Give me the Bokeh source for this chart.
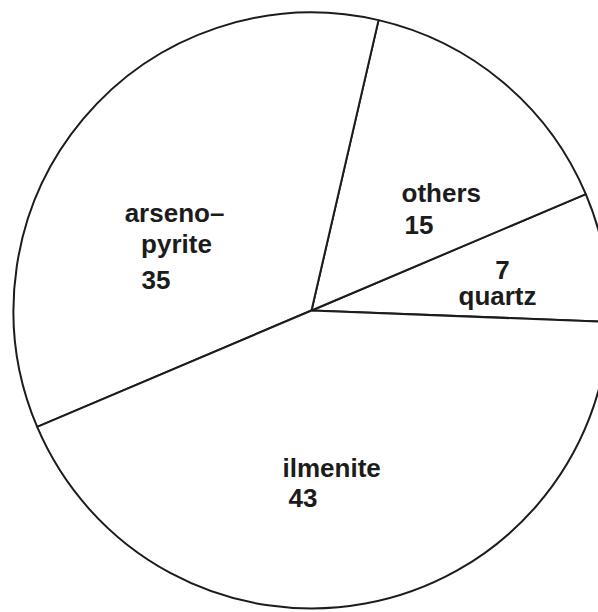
import math

from bokeh.embed import file_html
from bokeh.io import curdoc
from bokeh.models import ColumnDataSource, Range1d
from bokeh.plotting import figure
from bokeh.resources import INLINE
from bokeh.core.properties import value

# Mineral shares (percent), listed counter-clockwise from the right-hand side
minerals = ["quartz", "others", "arsenopyrite", "ilmenite"]
shares = [7, 15, 35, 43]

# Text written inside each slice (one string per line)
label_lines = {
    "quartz": ["7", "quartz"],
    "others": ["others", "15"],
    "arsenopyrite": ["arseno\u2013", "pyrite", "35"],
    "ilmenite": ["ilmenite", "43"],
}

# ---- layout -----------------------------------------------------------
W, H = 598, 612
CX, CY, R = 311, 302, 298          # pie centre and radius (data units == px)
START_DEG = -2.2                   # first boundary, just below horizontal
FONT = value("Liberation Sans")
FONT_SIZE = "26px"
INK = "#1c1c1c"

# anchor (x, baseline y) and alignment of every text line
label_layout = {
    "quartz": [(502, 343, "center"), (497, 317, "center")],
    "others": [(401, 420, "left"), (404, 388, "left")],
    "arsenopyrite": [(174, 400, "center"), (176, 369, "center"), (141, 333, "left")],
    "ilmenite": [(282, 145, "left"), (288, 115, "left")],
}

# ---- wedge angles from the shares ------------------------------------------
total = float(sum(shares))
starts, ends = [], []
acc = math.radians(START_DEG)
for s in shares:
    starts.append(acc)
    acc += 2 * math.pi * s / total
    ends.append(acc)

wedges = ColumnDataSource(dict(
    x=[CX] * len(shares),
    y=[CY] * len(shares),
    start=starts,
    end=ends,
    name=minerals,
))

p = figure(
    width=W, height=H,
    x_range=Range1d(0, W), y_range=Range1d(0, H),
    output_backend="svg", toolbar_location=None,
    min_border=0, outline_line_color=None,
    background_fill_color="white", border_fill_color="white",
)
p.axis.visible = False
p.grid.visible = False

p.wedge(
    x="x", y="y", radius=R, start_angle="start", end_angle="end",
    source=wedges, fill_color="white",
    line_color=INK, line_width=2.0,
)

# slice labels
for name in minerals:
    for text, (tx, ty, align) in zip(label_lines[name], label_layout[name]):
        p.text(
            x=[tx], y=[ty], text=[text],
            text_font=FONT, text_font_size=FONT_SIZE, text_font_style="bold",
            text_color=INK, text_align=align, text_baseline="alphabetic",
        )

curdoc().theme = None
open("out.html", "w").write(file_html(p, INLINE))
